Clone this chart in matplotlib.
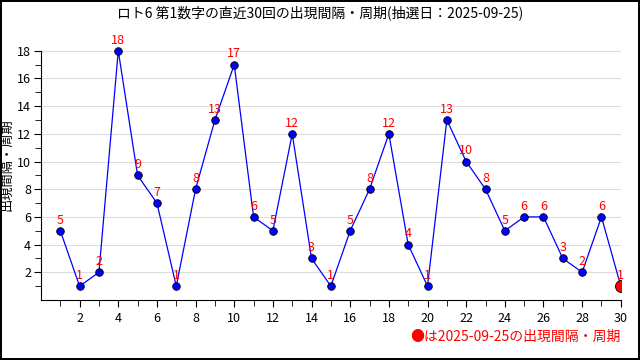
import matplotlib
matplotlib.use("Agg")
import matplotlib.pyplot as plt
from matplotlib.ticker import FixedLocator

plt.rcParams['font.family'] = ['Noto Sans CJK JP', 'DejaVu Sans']

# data
draws = list(range(1, 31))
intervals = [5, 1, 2, 18, 9, 7, 1, 8, 13, 17, 6, 5, 12, 3, 1,
             5, 8, 12, 4, 1, 13, 10, 8, 5, 6, 6, 3, 2, 6, 1]
title = "ロト6 第1数字の直近30回の出現間隔・周期(抽選日：2025-09-25)"
ylabel = "出現間隔・周期"
note = "●は2025-09-25の出現間隔・周期"

fig = plt.figure(figsize=(6.4, 3.6), dpi=100)
fig.patch.set_edgecolor('black')
fig.patch.set_linewidth(1.5)
ax = fig.add_axes([0.064, 0.1667, 0.906, 0.75])

ax.plot(draws, intervals, color='blue', linewidth=0.9, zorder=3)
ax.scatter(draws[:-1], intervals[:-1], s=30, color='blue',
           edgecolors='black', linewidths=0.6, zorder=4)
ax.scatter(draws[-1:], intervals[-1:], s=75, color='red',
           edgecolors='black', linewidths=0.6, zorder=5)

for x, y in zip(draws, intervals):
    ax.annotate(str(y), (x, y), xytext=(0, 3), textcoords='offset points',
                ha='center', va='bottom', color='red', fontsize=9)

ax.set_xlim(0, 30)
ax.set_ylim(0, 19.5)
ax.set_xticks(range(2, 31, 2))
ax.set_yticks(range(2, 19, 2))
ax.xaxis.set_minor_locator(FixedLocator(range(1, 30, 2)))
ax.yaxis.set_minor_locator(FixedLocator(range(1, 18, 2)))
ax.tick_params(which='both', direction='out', labelsize=9, length=5)
ax.tick_params(which='minor', length=4)
ax.tick_params(axis='y', pad=2)
ax.grid(axis='y', color='#dddddd', linewidth=0.8)
ax.set_axisbelow(True)
ax.spines['top'].set_visible(False)
ax.spines['right'].set_visible(False)
ax.spines['left'].set_bounds(0, 18)

ax.set_ylabel(ylabel, fontsize=9.5)
ax.yaxis.set_label_coords(-0.047, 0.5)
fig.text(0.5, 0.965, title, ha='center', va='center', fontsize=10)
fig.text(0.97, 0.065, note, ha='right', va='center', fontsize=10, color='red')

plt.savefig('out.png', dpi=100)
